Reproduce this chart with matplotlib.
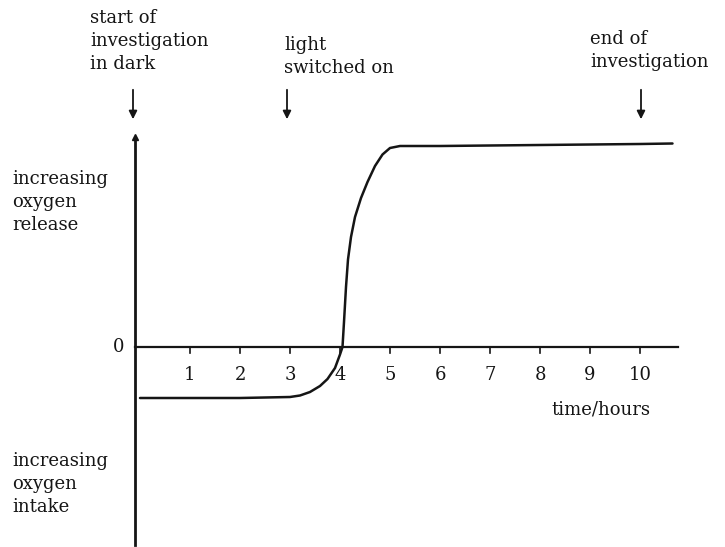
import matplotlib
matplotlib.use("Agg")
import matplotlib.pyplot as plt

# data (time in hours, oxygen in arbitrary units)
time = [0, 1, 2, 3.0, 3.2, 3.4, 3.6, 3.75, 3.9, 4.0, 4.05, 4.08, 4.12, 4.16,
        4.22, 4.3, 4.42, 4.55, 4.7, 4.85, 5.0, 5.2, 6, 7, 8, 9, 10, 10.65]
oxygen = [-1.02, -1.02, -1.02, -1.0, -0.97, -0.9, -0.78, -0.64, -0.42, -0.15,
          0.0, 0.5, 1.2, 1.75, 2.2, 2.6, 2.98, 3.3, 3.62, 3.85, 3.98, 4.02,
          4.02, 4.03, 4.04, 4.05, 4.06, 4.07]
tick_hours = [1, 2, 3, 4, 5, 6, 7, 8, 9, 10]
events = [(-0.14, "start of\ninvestigation\nin dark", -1.0, 6.76),
          (2.94, "light\nswitched on", 2.88, 6.22),
          (10.02, "end of\ninvestigation", 9.0, 6.34)]

ink = "#151515"
plt.rcParams['font.family'] = ['DejaVu Serif']
fs = 13

fig = plt.figure(figsize=(7.25, 5.47), dpi=100)
ax = fig.add_axes([0, 0, 1, 1])
ax.set_xlim(-2.8, 11.7)
ax.set_ylim(-4.0, 6.94)
ax.axis("off")

# axes lines
ax.plot([-0.1, -0.1], [-3.96, 4.2], color=ink, lw=2)
ax.plot([-0.1], [4.2], marker="^", color=ink, ms=5)
ax.plot([-0.1, 10.76], [0, 0], color=ink, lw=1.6)
for h in tick_hours:
    ax.plot([h, h], [0, -0.12], color=ink, lw=1.2)
    ax.text(h, -0.56, str(h), ha="center", va="center", fontsize=fs, color=ink)
ax.text(-0.32, 0.0, "0", ha="right", va="center", fontsize=fs, color=ink)
ax.text(9.22, -1.26, "time/hours", ha="center", va="center", fontsize=fs, color=ink)

# curve
ax.plot(time, oxygen, color=ink, lw=1.8, solid_capstyle="round")

# left labels
ax.text(-2.55, 3.54, "increasing\noxygen\nrelease", ha="left", va="top",
        fontsize=fs, color=ink, linespacing=1.35)
ax.text(-2.55, -2.1, "increasing\noxygen\nintake", ha="left", va="top",
        fontsize=fs, color=ink, linespacing=1.35)

# event labels and arrows
for x, label, tx, ty in events:
    ax.text(tx, ty, label, ha="left", va="top", fontsize=fs, color=ink,
            linespacing=1.35)
    ax.annotate("", xy=(x, 4.5), xytext=(x, 5.2),
                arrowprops=dict(arrowstyle="-|>", color=ink, lw=1.3,
                                mutation_scale=12))

fig.savefig("out.png", dpi=100)
